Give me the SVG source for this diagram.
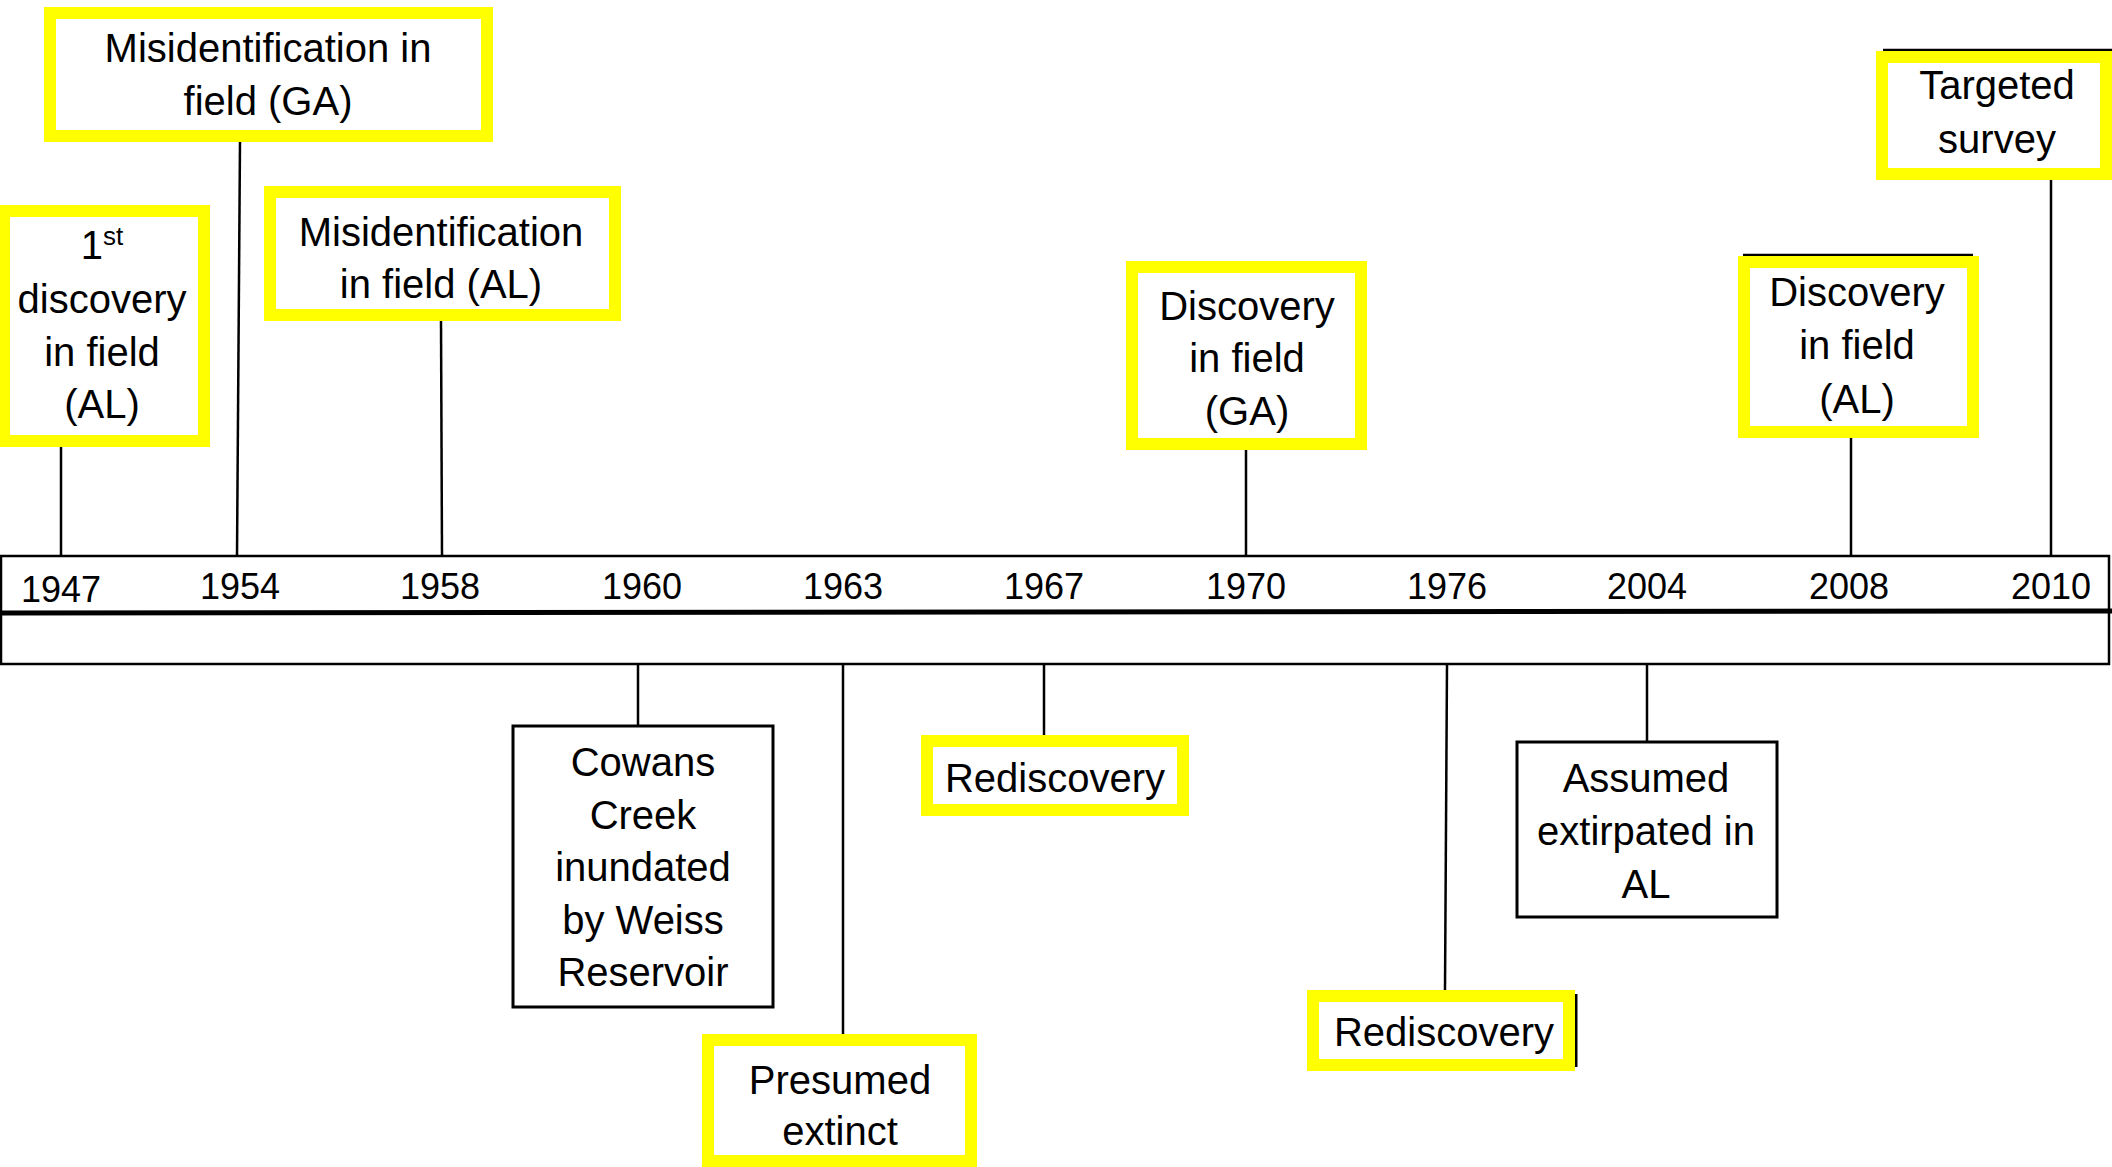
<svg xmlns="http://www.w3.org/2000/svg" width="2112" height="1167" viewBox="0 0 2112 1167">
<style>
text{font-family:"Liberation Sans",Arial,sans-serif;font-size:40px;fill:#000;text-anchor:middle}
.yr{font-size:36px}
.yb{fill:#fff;stroke:#ffff00;stroke-width:12}
.bb{fill:#fff;stroke:#000;stroke-width:3}
.c{stroke:#000;stroke-width:2.5;fill:none}
</style>
<rect width="2112" height="1167" fill="#fff"/>
<g id="connectors">
<line class="c" x1="61" y1="447" x2="61" y2="556"/>
<line class="c" x1="240" y1="141" x2="237" y2="556"/>
<line class="c" x1="441" y1="321" x2="442" y2="556"/>
<line class="c" x1="1246" y1="450" x2="1246" y2="556"/>
<line class="c" x1="1851" y1="438" x2="1851" y2="556"/>
<line class="c" x1="2051" y1="180" x2="2051" y2="556"/>
<line class="c" x1="638" y1="664" x2="638" y2="726"/>
<line class="c" x1="843" y1="664" x2="843" y2="1034"/>
<line class="c" x1="1044" y1="664" x2="1044" y2="735"/>
<line class="c" x1="1447" y1="664" x2="1445" y2="990"/>
<line class="c" x1="1647" y1="664" x2="1647" y2="742"/>
</g>
<g id="timeline">
<rect x="1" y="556" width="2108" height="108" fill="#fff" stroke="#000" stroke-width="2.5"/>
<line x1="0" y1="613" x2="2112" y2="611" stroke="#000" stroke-width="5"/>
<text class="yr" x="61" y="602">1947</text>
<text class="yr" x="240" y="599">1954</text>
<text class="yr" x="440" y="599">1958</text>
<text class="yr" x="642" y="599">1960</text>
<text class="yr" x="843" y="599">1963</text>
<text class="yr" x="1044" y="599">1967</text>
<text class="yr" x="1246" y="599">1970</text>
<text class="yr" x="1447" y="599">1976</text>
<text class="yr" x="1647" y="599">2004</text>
<text class="yr" x="1849" y="599">2008</text>
<text class="yr" x="2051" y="599">2010</text>
</g>
<g id="n-first-discovery">
<rect class="yb" x="4" y="211" width="200" height="230"/>
<text x="102" y="259">1<tspan dy="-14" font-size="26">st</tspan></text>
<text x="102" y="313">discovery</text>
<text x="102" y="366">in field</text>
<text x="102" y="418">(AL)</text>
</g>
<g id="n-misid-ga">
<rect class="yb" x="50" y="13" width="437" height="123"/>
<text x="268" y="62">Misidentification in</text>
<text x="268" y="115">field (GA)</text>
</g>
<g id="n-misid-al">
<rect class="yb" x="270" y="192" width="345" height="123"/>
<text x="441" y="246">Misidentification</text>
<text x="441" y="298">in field (AL)</text>
</g>
<g id="n-discovery-ga">
<rect class="yb" x="1132" y="267" width="229" height="177"/>
<text x="1247" y="320">Discovery</text>
<text x="1247" y="372">in field</text>
<text x="1247" y="425">(GA)</text>
</g>
<g id="n-discovery-al">
<line x1="1743" y1="255" x2="1973" y2="255" stroke="#000" stroke-width="2.5"/>
<rect class="yb" x="1744" y="262" width="229" height="170"/>
<text x="1857" y="306">Discovery</text>
<text x="1857" y="359">in field</text>
<text x="1857" y="413">(AL)</text>
</g>
<g id="n-targeted-survey">
<line x1="1883" y1="50" x2="2112" y2="50" stroke="#000" stroke-width="2.5"/>
<rect class="yb" x="1882" y="57" width="224" height="117"/>
<text x="1997" y="99">Targeted</text>
<text x="1997" y="153">survey</text>
</g>
<g id="n-cowans">
<rect class="bb" x="513" y="726" width="260" height="281"/>
<text x="643" y="776">Cowans</text>
<text x="643" y="829">Creek</text>
<text x="643" y="881">inundated</text>
<text x="643" y="934">by Weiss</text>
<text x="643" y="986">Reservoir</text>
</g>
<g id="n-presumed-extinct">
<rect class="yb" x="708" y="1040" width="263" height="121"/>
<text x="840" y="1094">Presumed</text>
<text x="840" y="1145">extinct</text>
</g>
<g id="n-rediscovery-1">
<rect class="yb" x="927" y="741" width="256" height="69"/>
<text x="1055" y="792">Rediscovery</text>
</g>
<g id="n-rediscovery-2">
<line x1="1576" y1="994" x2="1576" y2="1067" stroke="#000" stroke-width="3"/>
<rect class="yb" x="1313" y="996" width="256" height="69"/>
<text x="1444" y="1046">Rediscovery</text>
</g>
<g id="n-assumed-extirpated">
<rect class="bb" x="1517" y="742" width="260" height="175"/>
<text x="1646" y="792">Assumed</text>
<text x="1646" y="845">extirpated in</text>
<text x="1646" y="898">AL</text>
</g>
</svg>
